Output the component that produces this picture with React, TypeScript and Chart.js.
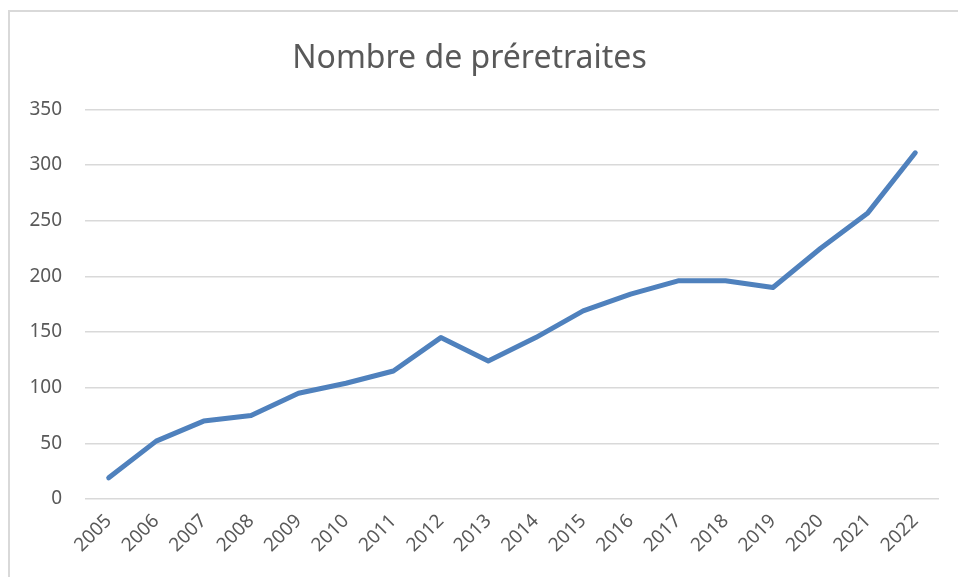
import React, { useEffect, useRef } from "react";
import { Chart, registerables } from "chart.js";

Chart.register(...registerables);

const years: string[] = [
  "2005", "2006", "2007", "2008", "2009", "2010", "2011", "2012", "2013",
  "2014", "2015", "2016", "2017", "2018", "2019", "2020", "2021", "2022",
];
const preretraites: number[] = [
  19, 52, 70, 75, 95, 104, 115, 145, 124, 145, 169, 184, 196, 196, 190, 225, 257, 311,
];
const yMin = 0;
const yMax = 350;
const yStep = 50;
const titleText = "Nombre de préretraites";

const FONT = "'Noto Sans', 'DejaVu Sans', sans-serif";

export default function App() {
  const ref = useRef<HTMLCanvasElement | null>(null);

  useEffect(() => {
    if (!ref.current) return;
    const chart = new Chart(ref.current, {
      type: "line",
      data: {
        labels: years,
        datasets: [
          {
            label: titleText,
            data: preretraites,
            borderColor: "#4F81BD",
            backgroundColor: "#4F81BD",
            borderWidth: 5,
            borderCapStyle: "round",
            borderJoinStyle: "round",
            pointRadius: 0,
            pointHoverRadius: 0,
            tension: 0,
          },
        ],
      },
      options: {
        animation: false,
        responsive: false,
        maintainAspectRatio: false,
        layout: { padding: { left: 0, right: 19, top: 0, bottom: 0 } },
        plugins: {
          legend: { display: false },
          tooltip: { enabled: false },
          title: {
            display: true,
            text: titleText,
            color: "#595959",
            font: { family: FONT, size: 32, weight: "normal", lineHeight: 1.2 },
            padding: { top: 40, bottom: 31 },
          },
        },
        scales: {
          x: {
            offset: true,
            grid: { display: false, drawTicks: false },
            border: { display: false },
            ticks: {
              color: "#595959",
              font: { family: FONT, size: 19 },
              maxRotation: 45,
              minRotation: 45,
              padding: 11,
              autoSkip: false,
            },
            afterFit: (s: any) => {
              s.height = 78;
            },
          },
          y: {
            min: yMin,
            max: yMax,
            grid: { color: "#D9D9D9", lineWidth: 1.5, drawTicks: false },
            border: { display: false },
            ticks: {
              stepSize: yStep,
              color: "#595959",
              font: { family: FONT, size: 19 },
              padding: 23,
            },
            afterFit: (s: any) => {
              s.width = 85;
            },
          },
        },
      },
    });
    return () => chart.destroy();
  }, []);

  return (
    <div
      style={{
        position: "absolute",
        left: 0,
        top: 0,
        width: 958,
        height: 577,
        overflow: "hidden",
        background: "#ffffff",
      }}
    >
      <div
        style={{
          position: "absolute",
          left: 8,
          top: 10,
          width: 980,
          height: 600,
          borderLeft: "2px solid #D9D9D9",
          borderTop: "2px solid #D9D9D9",
          boxSizing: "border-box",
        }}
      />
      <canvas
        ref={ref}
        width={958}
        height={577}
        style={{ position: "absolute", left: 0, top: 0, width: 958, height: 577 }}
      />
    </div>
  );
}
